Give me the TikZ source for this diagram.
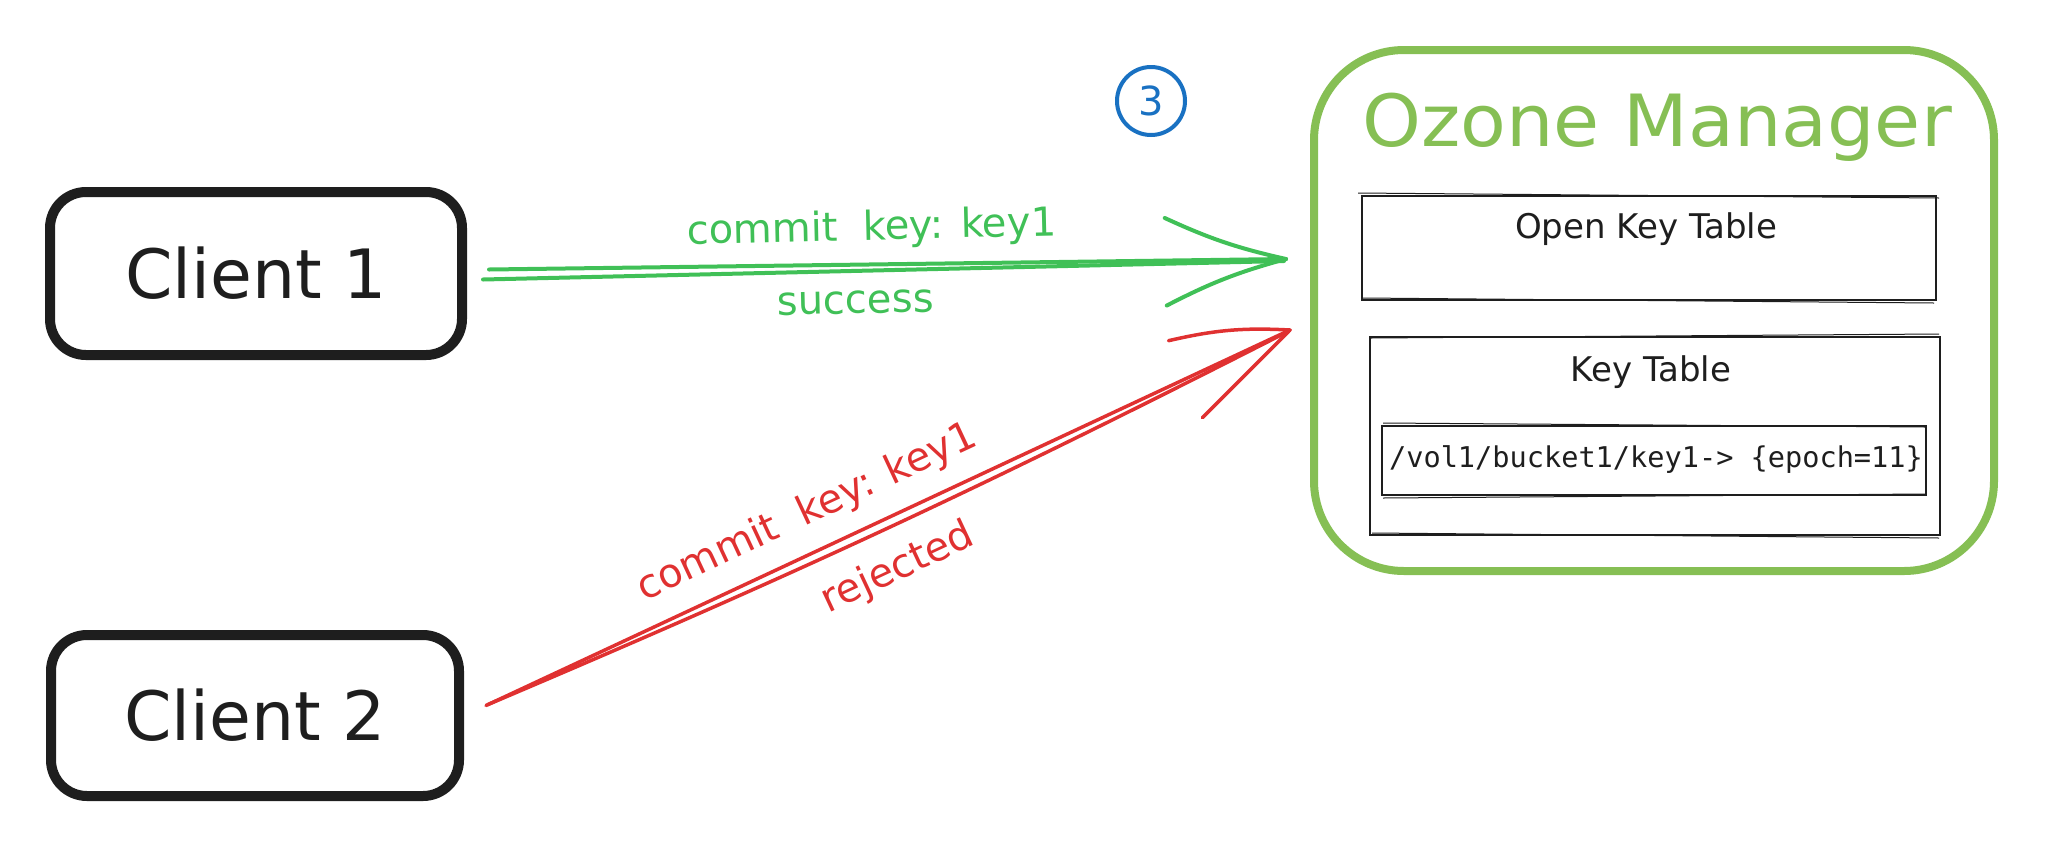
\documentclass[tikz,border=0pt]{standalone}
\usepackage{fontspec}
\setmainfont{DejaVu Sans}
\newfontfamily\monofont{DejaVu Sans Mono}
\usetikzlibrary{calc}
\definecolor{ink}{HTML}{1E1E1E}
\definecolor{okgreen}{HTML}{40C057}
\definecolor{omgreen}{RGB}{134,191,84}
\definecolor{badred}{HTML}{E03131}
\definecolor{badgeblue}{HTML}{1971C2}
\tikzset{
  clientbox/.style={draw=ink, line width=10pt, rounded corners=36pt, text=ink,
    font=\fontsize{68}{80}\selectfont, inner sep=0pt,
    minimum width=412pt, minimum height=163pt},
  ombox/.style={draw=omgreen, line width=8pt, rounded corners=90pt, inner sep=0pt},
  tablebox/.style={draw=ink, line width=2pt, inner sep=0pt},
  sketchline/.style={draw=ink, line width=1pt},
  okline/.style={draw=okgreen, line width=4pt, line cap=round},
  badline/.style={draw=badred, line width=3.5pt, line cap=round},
  lbl/.style={font=\fontsize{40}{48}\selectfont, inner sep=2pt},
  tbltext/.style={font=\fontsize{34}{40}\selectfont, text=ink, anchor=base},
}
\begin{document}
\begin{tikzpicture}[x=1pt,y=-1pt]
\useasboundingbox (0,0) rectangle (2048,847);

% clients
\node[clientbox] (c1) at (256,273.5) {Client 1};
\node[clientbox, minimum width=408pt, minimum height=161pt] (c2) at (255,715.5) {Client 2};

% ozone manager
\node[ombox, minimum width=680pt, minimum height=521pt] (om) at (1654,310.5) {};
\node[font=\fontsize{72}{84}\selectfont, text=omgreen, anchor=base, xscale=1.04] (omT) at (1657,146) {Ozone Manager};

% open key table
\node[tablebox, minimum width=574pt, minimum height=104pt] (otk) at (1649,248) {};
\draw[sketchline] ($(otk.north west)+(-3,-2)$) -- ($(otk.north east)+(2,3)$);
\draw[sketchline] ($(otk.south west)+(2,-3)$) -- ($(otk.south east)+(-3,2)$);
\node[tbltext] (otkL) at (1646,238) {Open Key Table};

% key table
\node[tablebox, minimum width=570pt, minimum height=198pt] (kt) at (1655,436) {};
\draw[sketchline] ($(kt.north west)+(2,2)$) -- ($(kt.north east)+(-2,-2)$);
\draw[sketchline] ($(kt.south west)+(3,-3)$) -- ($(kt.south east)+(-2,2)$);
\node[tbltext] (ktL) at (1651,381) {Key Table};

\node[tablebox, minimum width=544pt, minimum height=69pt] (kv) at (1654,460.5) {};
\draw[sketchline] ($(kv.north west)+(2,-2)$) -- ($(kv.north east)+(-2,2)$);
\draw[sketchline] ($(kv.south west)+(2,2)$) -- ($(kv.south east)+(-2,-2)$);
\node[font=\monofont\fontsize{28.6}{34}\selectfont, text=ink, anchor=base] (kvL) at (1656,467) {/vol1/bucket1/key1-> \{epoch=11\}};

% step badge
\node[circle, draw=badgeblue, line width=4pt, minimum size=68pt, inner sep=0pt,
      text=badgeblue, font=\fontsize{40}{46}\selectfont] (badge) at (1151,101) {3};

% green arrow (client 1 -> ozone manager)
\coordinate (gS) at ($(c1.east)+(16,4)$);
\coordinate (gT) at ($(om.west)+(-24,-51.5)$);
\draw[okline] ($(c1.east)+(22,-4)$) -- (gT);
\draw[okline] ($(c1.east)+(16,6)$) -- ($(gT)+(-2,2)$);
\draw[okline] ($(gT)!128pt!20:(gS)$) to[bend left=6] (gT);
\draw[okline] ($(gT)!128pt!-20:(gS)$) to[bend right=6] (gT);
\path (gS) -- node[lbl, text=okgreen, sloped, pos=0.485, above=18pt] (gL1) {commit~~key: key1}
              node[lbl, text=okgreen, sloped, pos=0.463, below=20pt] (gL2) {success} (gT);

% red arrow (client 2 -> ozone manager)
\coordinate (rS) at ($(c2.east)+(22,-10)$);
\coordinate (rT) at ($(om.west)+(-20,19.5)$);
\draw[badline] (rS) -- (rT);
\draw[badline] ($(rS)+(2,-1)$) to[bend right=2] ($(rT)+(-3,2)$);
\draw[badline] ($(rT)!122pt!-20:(rS)$) to[bend left=8] (rT);
\draw[badline] ($(rT)!124pt!20:(rS)$) -- (rT);
\path (rS) -- node[lbl, text=badred, sloped, pos=0.42, above=17pt] (rL1) {commit~~key: key1}
              node[lbl, text=badred, sloped, pos=0.486, below=29pt] (rL2) {rejected} (rT);
\end{tikzpicture}
\end{document}
